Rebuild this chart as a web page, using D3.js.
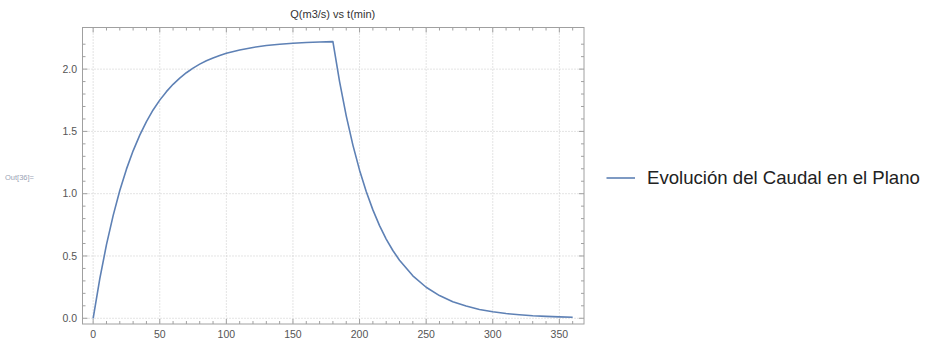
<!DOCTYPE html>
<html><head><meta charset="utf-8">
<script src="https://cdn.jsdelivr.net/npm/d3@7"></script>
<style>body{margin:0;background:#fff;} svg{display:block;}</style>
</head><body>
<svg id="c" width="929" height="341"></svg>
<script>
const tValues = [0,5,10,15,20,25,30,35,40,45,50,55,60,65,70,75,80,85,90,95,100,110,120,130,140,150,160,170,180,
  185,190,195,200,205,210,215,220,225,230,240,250,260,270,280,290,300,310,320,330,340,350,360];
const qValues = [0,0.318,0.591,0.824,1.025,1.197,1.344,1.470,1.579,1.672,1.751,1.819,1.878,1.928,1.971,2.008,2.040,2.067,2.090,2.110,2.127,2.154,2.174,2.189,2.200,2.208,2.214,2.218,2.221,
  1.900,1.625,1.390,1.189,1.017,0.870,0.744,0.636,0.544,0.466,0.341,0.249,0.182,0.133,0.098,0.071,0.052,0.038,0.028,0.020,0.015,0.011,0.008];
const xTicks = [0,50,100,150,200,250,300,350];
const yTicks = [0.0,0.5,1.0,1.5,2.0];
const titleText = "Q(m3/s) vs t(min)";
const legendLabel = "Evolución del Caudal en el Plano";
const outLabel = "Out[36]=";

const svg = d3.select("#c");
const L = 82.5, R = 584, T = 27.5, B = 324;
const x = d3.scaleLinear().domain([-8, 368.5]).range([L, R]);
const y = d3.scaleLinear().domain([-0.046, 2.334]).range([B, T]);
const font = "Liberation Sans, Arial, sans-serif";

// gridlines
const g = svg.append("g");
g.selectAll(".gx").data(xTicks).enter().append("line")
  .attr("x1", d => x(d)).attr("x2", d => x(d)).attr("y1", T).attr("y2", B)
  .attr("stroke", "#c8c8c8").attr("stroke-width", 1).attr("stroke-dasharray", "1,2");
g.selectAll(".gy").data(yTicks).enter().append("line")
  .attr("y1", d => y(d)).attr("y2", d => y(d)).attr("x1", L).attr("x2", R)
  .attr("stroke", "#c8c8c8").attr("stroke-width", 1).attr("stroke-dasharray", "1,2");

// frame
svg.append("rect").attr("x", L).attr("y", T).attr("width", R - L).attr("height", B - T)
  .attr("fill", "none").attr("stroke", "#a0a0a0").attr("stroke-width", 1);

// ticks on all sides
const xMinor = d3.range(-0, 361, 10).filter(v => x(v) >= L && x(v) <= R);
const yMinor = d3.range(0, 23).map(v => v / 10);
const tickCol = "#a0a0a0";
function xt(v, len, yy, dir) {
  svg.append("line").attr("x1", x(v)).attr("x2", x(v)).attr("y1", yy).attr("y2", yy + dir * len)
    .attr("stroke", tickCol).attr("stroke-width", 1);
}
function yt(v, len, xx, dir) {
  svg.append("line").attr("y1", y(v)).attr("y2", y(v)).attr("x1", xx).attr("x2", xx + dir * len)
    .attr("stroke", tickCol).attr("stroke-width", 1);
}
xMinor.forEach(v => { const maj = v % 50 === 0; xt(v, maj ? 5 : 3, B, -1); xt(v, maj ? 5 : 3, T, 1); });
yMinor.forEach(v => { const maj = Math.round(v * 10) % 5 === 0; yt(v, maj ? 5 : 3, L, 1); yt(v, maj ? 5 : 3, R, -1); });

// tick labels
svg.selectAll(".xl").data(xTicks).enter().append("text")
  .attr("x", d => x(d)).attr("y", 338).attr("text-anchor", "middle")
  .attr("font-family", font).attr("font-size", 10.5).attr("fill", "#555").text(d => d);
svg.selectAll(".yl").data(yTicks).enter().append("text")
  .attr("x", 77).attr("y", d => y(d) + 3.8).attr("text-anchor", "end")
  .attr("font-family", font).attr("font-size", 10.5).attr("fill", "#555").text(d => d.toFixed(1));

// title
svg.append("text").attr("x", (L + R) / 2 - 0.5).attr("y", 18).attr("text-anchor", "middle")
  .attr("font-family", font).attr("font-size", 11).attr("fill", "#333").text(titleText);

// out label
svg.append("text").attr("x", 5).attr("y", 180).attr("font-family", font).attr("font-size", 7.5)
  .attr("fill", "#9aa3b5").text(outLabel);

// curve
const pts = tValues.map((t, i) => [t, qValues[i]]);
svg.append("path").datum(pts)
  .attr("d", d3.line().x(d => x(d[0])).y(d => y(d[1])).curve(d3.curveLinear))
  .attr("fill", "none").attr("stroke", "#5e81b5").attr("stroke-width", 1.6)
  .attr("stroke-linejoin", "round");

// legend
svg.append("line").attr("x1", 606.5).attr("x2", 635).attr("y1", 178).attr("y2", 178)
  .attr("stroke", "#5e81b5").attr("stroke-width", 1.6);
svg.append("text").attr("x", 647).attr("y", 184).attr("font-family", font).attr("font-size", 18.6)
  .attr("fill", "#222").text(legendLabel);
</script>
</body></html>
